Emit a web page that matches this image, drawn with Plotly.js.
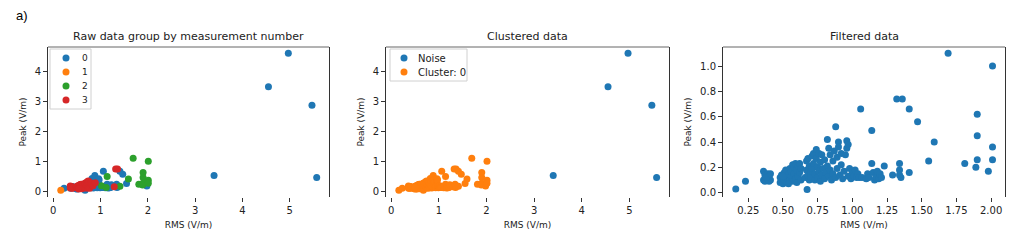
<!DOCTYPE html>
<html>
<head>
<meta charset="utf-8">
<script src="https://cdn.plot.ly/plotly-3.0.1.min.js"></script>
<style>html,body{margin:0;padding:0;background:#fff;}#chart{width:1022px;height:247px;}</style>
</head>
<body>
<div id="chart"></div>
<script>
// RMS (V/m), Peak (V/m), measurement number, cluster label (-1 = noise)
const rms = [
0.16,0.23,
0.36,0.37,0.36,0.37,0.39,0.40,0.41,0.40,0.38,0.41,
0.48,0.48,0.49,0.50,0.51,0.51,0.52,0.53,0.53,0.54,0.55,0.55,0.56,0.56,0.57,0.57,0.58,0.58,0.59,0.59,0.60,0.60,0.61,0.61,0.62,0.62,0.63,0.63,0.54,0.50,
0.674,
0.66,0.67,0.67,0.68,0.68,0.69,0.69,0.70,0.70,0.71,0.71,0.72,0.72,0.73,0.73,0.74,0.74,0.75,0.75,0.76,0.76,0.77,0.77,0.78,0.78,0.79,0.80,0.80,0.81,0.82,0.82,0.83,0.83,0.84,0.84,0.85,
0.86,0.86,0.87,0.88,0.88,0.89,0.89,0.90,0.90,0.91,0.92,0.92,0.93,0.94,0.95,0.96,0.96,0.97,0.98,0.97,
0.99,1.00,1.01,1.02,1.03,1.04,1.05,1.06,1.07,
1.10,1.11,1.12,1.14,1.14,1.15,1.16,1.17,1.18,1.19,1.20,1.21,1.23,
1.29,1.32,1.36,1.34,1.34,1.34,1.35,1.41,1.41,1.47,1.55,1.59,1.69,1.81,1.90,1.90,1.90,1.89,1.98,2.01,2.01,2.01,
3.40,4.55,4.97,5.47,5.57
];
const peak = [
0.03,0.09,
0.17,0.14,0.10,0.09,0.15,0.13,0.10,0.09,0.12,0.15,
0.08,0.12,0.14,0.07,0.10,0.16,0.18,0.12,0.08,0.15,0.19,0.10,0.13,0.17,0.22,0.09,0.20,0.15,0.11,0.23,0.18,0.08,0.21,0.13,0.23,0.16,0.19,0.10,0.07,0.13,
0.025,
0.12,0.18,0.25,0.27,0.14,0.10,0.21,0.16,0.12,0.19,0.29,0.31,0.23,0.10,0.15,0.34,0.27,0.20,0.12,0.31,0.17,0.24,0.09,0.14,0.30,0.19,0.11,0.26,0.16,0.21,0.42,0.35,0.13,0.18,0.30,0.10,
0.25,0.15,0.33,0.52,0.12,0.28,0.19,0.40,0.36,0.14,0.22,0.31,0.11,0.17,0.30,0.35,0.41,0.13,0.19,0.38,
0.11,0.16,0.13,0.18,0.12,0.15,0.12,0.66,0.12,
0.11,0.15,0.12,0.49,0.23,0.16,0.10,0.13,0.17,0.11,0.15,0.12,0.21,
0.14,0.74,0.74,0.23,0.18,0.14,0.12,0.66,0.16,0.56,0.25,0.40,1.10,0.23,0.62,0.45,0.26,0.20,0.17,1.00,0.36,0.26,
0.52,3.50,4.62,2.88,0.45
];
const meas = [
1,0,
3,3,3,0,3,3,3,3,0,0,
0,3,3,0,3,3,3,3,0,3,3,3,0,3,3,3,3,3,0,3,3,3,3,0,3,3,3,3,3,0,
0,
3,3,3,3,0,3,3,3,0,3,3,3,3,3,0,3,3,3,3,3,0,3,3,0,0,3,0,3,0,3,0,0,0,3,0,0,
0,0,0,0,0,3,0,0,0,0,0,0,0,0,0,0,0,0,0,0,
0,0,0,2,0,0,0,0,0,
0,0,2,2,0,0,0,0,0,0,0,0,0,
3,3,3,0,0,0,0,0,2,0,0,2,2,2,2,2,2,2,0,2,2,2,
0,0,0,0,0
];
const clusterLabel = rms.map((v, i) => (rms[i] > 3 ? -1 : 0));
const groupNames = ['0', '1', '2', '3'];
const clusterNames = ['Noise', 'Cluster: 0'];
const colors = ['#1f77b4', '#ff7f0e', '#2ca02c', '#d62728'];

const FONT = 'DejaVu Sans, Arial, sans-serif';
const W = 1022, H = 247;
const px = v => v / W, py = v => 1 - v / H;
const traces = [];
const msize = 7;

// Panel 1: by measurement number
groupNames.forEach((g, gi) => {
  const idx = rms.map((_, i) => i).filter(i => meas[i] === gi);
  traces.push({
    type: 'scatter', mode: 'markers', name: g,
    x: idx.map(i => rms[i]), y: idx.map(i => peak[i]),
    xaxis: 'x', yaxis: 'y', showlegend: false,
    marker: {color: colors[gi], size: msize}
  });
});
// Panel 2: clustered
[[-1, clusterNames[0], colors[0]], [0, clusterNames[1], colors[1]]].forEach(([lab, name, col]) => {
  const idx = rms.map((_, i) => i).filter(i => clusterLabel[i] === lab);
  traces.push({
    type: 'scatter', mode: 'markers', name: name,
    x: idx.map(i => rms[i]), y: idx.map(i => peak[i]),
    xaxis: 'x2', yaxis: 'y2', showlegend: false,
    marker: {color: col, size: msize}
  });
});
// Panel 3: filtered
{
  const idx = rms.map((_, i) => i).filter(i => clusterLabel[i] === 0);
  traces.push({
    type: 'scatter', mode: 'markers', name: 'Filtered',
    x: idx.map(i => rms[i]), y: idx.map(i => peak[i]),
    xaxis: 'x3', yaxis: 'y3', showlegend: false,
    marker: {color: colors[0], size: msize}
  });
}

const yTop = py(47), yBot = py(197);
function xa(domain, range, extra) {
  return Object.assign({
    domain: domain, range: range, showgrid: false, zeroline: false,
    showline: false, ticks: 'outside', ticklen: 4, tickwidth: 1, tickcolor: '#333',
    tickfont: {family: FONT, size: 10, color: '#222'},
    title: {text: 'RMS (V/m)', font: {family: FONT, size: 9, color: '#222'}, standoff: 6}
  }, extra);
}
function ya(range, anchor, extra) {
  return Object.assign({
    domain: [yBot, yTop], range: range, anchor: anchor, showgrid: false, zeroline: false,
    showline: true, mirror: true, linecolor: '#333', linewidth: 1,
    ticks: 'outside', ticklen: 4, tickwidth: 1, tickcolor: '#333',
    tickfont: {family: FONT, size: 10, color: '#222'},
    title: {text: 'Peak (V/m)', font: {family: FONT, size: 9, color: '#222'}, standoff: 6}
  }, extra);
}

const shapes = [];
const annotations = [
  {text: 'a)', xref: 'paper', yref: 'paper', x: px(14), y: py(16), xanchor: 'left', yanchor: 'middle', showarrow: false, font: {family: 'Liberation Sans, Arial, sans-serif', size: 13, color: '#000'}},
  {text: 'Raw data group by measurement number', xref: 'x domain', yref: 'paper', x: 0.5, y: py(37), xanchor: 'center', yanchor: 'middle', showarrow: false, font: {family: FONT, size: 11, color: '#222'}},
  {text: 'Clustered data', xref: 'x2 domain', yref: 'paper', x: 0.5, y: py(37), xanchor: 'center', yanchor: 'middle', showarrow: false, font: {family: FONT, size: 11, color: '#222'}},
  {text: 'Filtered data', xref: 'x3 domain', yref: 'paper', x: 0.5, y: py(37), xanchor: 'center', yanchor: 'middle', showarrow: false, font: {family: FONT, size: 11, color: '#222'}}
];
// top spines
['x', 'x2', 'x3'].forEach((ax, k) => {
  const yax = ['y', 'y2', 'y3'][k];
  shapes.push({type: 'line', xref: ax + ' domain', yref: yax + ' domain', x0: 0, x1: 1, y0: 1, y1: 1, line: {color: '#666', width: 1}});
});
// legend boxes (matplotlib-style)
function legendBox(x0, y0, x1, y1, names, cols, mx, tx, fsize) {
  shapes.push({type: 'rect', xref: 'paper', yref: 'paper', x0: px(x0), x1: px(x1), y0: py(y0), y1: py(y1),
    line: {color: '#d0d0d0', width: 1}, fillcolor: 'rgba(255,255,255,0.85)', layer: 'above'});
  names.forEach((n, i) => {
    const cy = y0 + 9 + i * 14;
    shapes.push({type: 'circle', xref: 'paper', yref: 'paper', x0: px(mx - 3.5), x1: px(mx + 3.5), y0: py(cy - 3.5), y1: py(cy + 3.5),
      line: {width: 0}, fillcolor: cols[i], layer: 'above'});
    annotations.push({text: n, xref: 'paper', yref: 'paper', x: px(tx), y: py(cy), xanchor: 'left', yanchor: 'middle', showarrow: false,
      font: {family: FONT, size: fsize, color: '#222'}});
  });
}
legendBox(50, 49, 91, 109, groupNames, colors, 66, 80, 9);
legendBox(390, 49, 467, 81, clusterNames, [colors[0], colors[1]], 404, 416, 10);

const layout = {
  width: W, height: H,
  margin: {l: 0, r: 0, t: 0, b: 0},
  paper_bgcolor: '#fff', plot_bgcolor: '#fff',
  showlegend: false,
  xaxis: xa([px(48), px(329)], [-0.11, 5.83], {anchor: 'y', tickvals: [0, 1, 2, 3, 4, 5]}),
  yaxis: ya([-0.2, 4.83], 'x', {tickvals: [0, 1, 2, 3, 4]}),
  xaxis2: xa([px(386), px(669)], [-0.11, 5.83], {anchor: 'y2', tickvals: [0, 1, 2, 3, 4, 5]}),
  yaxis2: ya([-0.2, 4.83], 'x2', {tickvals: [0, 1, 2, 3, 4]}),
  xaxis3: xa([px(723), px(1005)], [0.068, 2.10], {anchor: 'y3', tickvals: [0.25, 0.5, 0.75, 1.0, 1.25, 1.5, 1.75, 2.0], tickformat: '.2f'}),
  yaxis3: ya([-0.034, 1.15], 'x3', {tickvals: [0, 0.2, 0.4, 0.6, 0.8, 1.0], tickformat: '.1f'}),
  shapes: shapes,
  annotations: annotations
};

Plotly.newPlot('chart', traces, layout, {staticPlot: true, displayModeBar: false});
</script>
</body>
</html>
